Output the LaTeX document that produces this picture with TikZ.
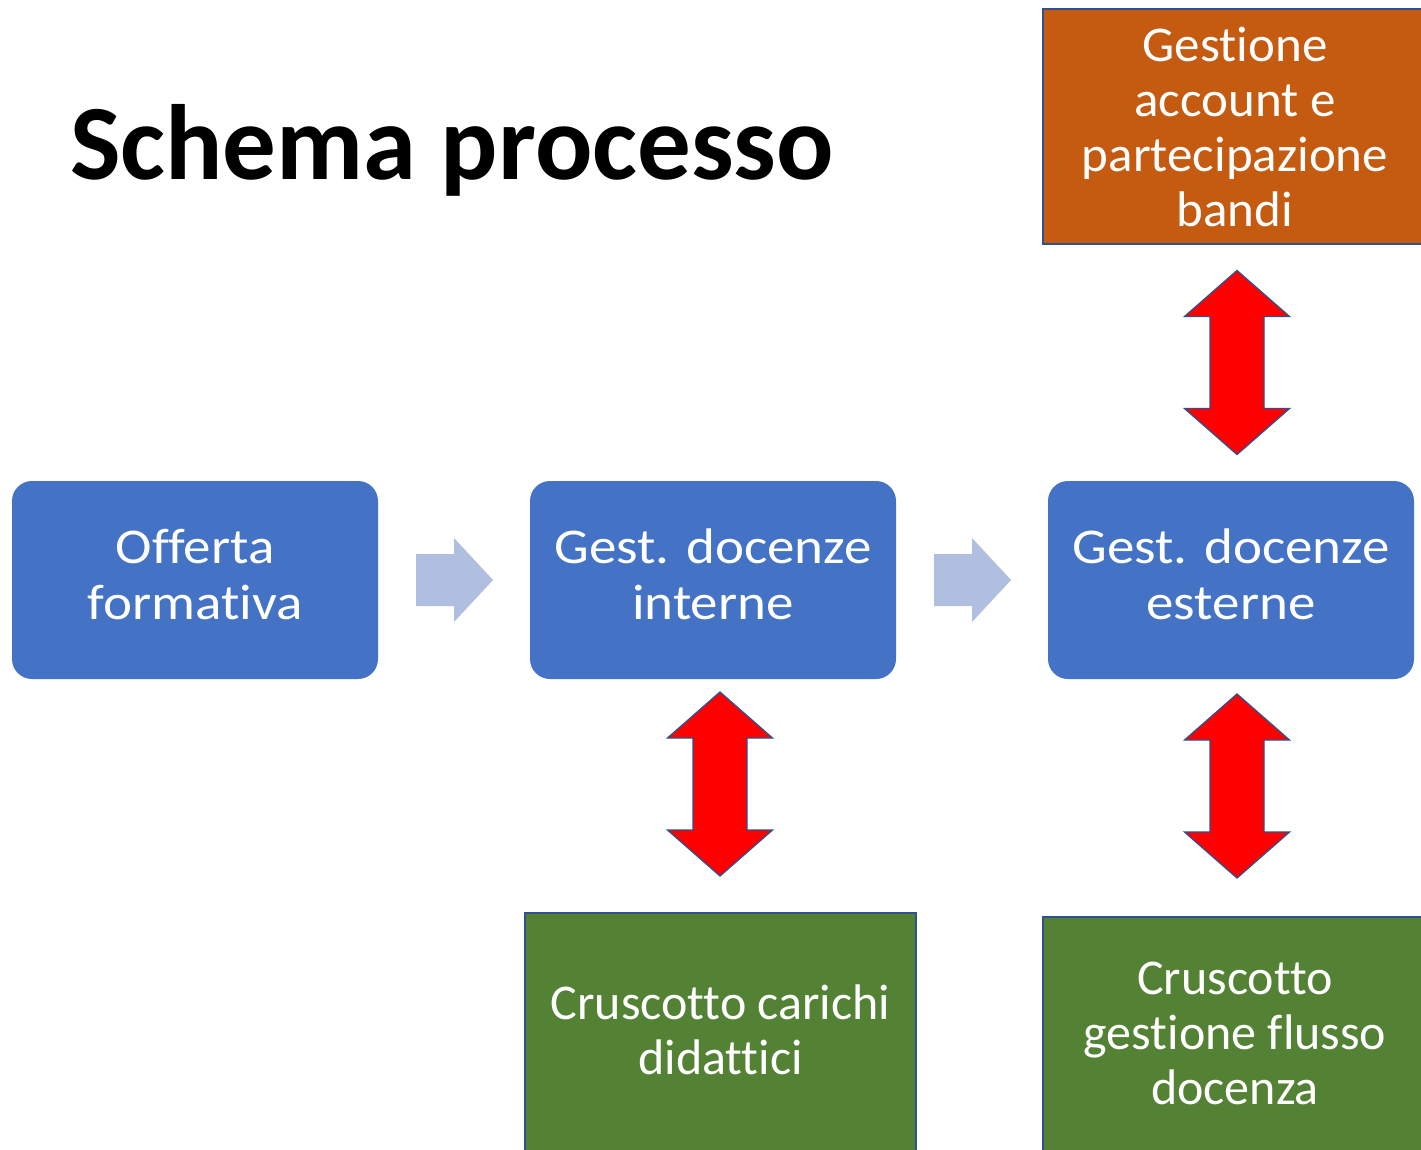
\documentclass[tikz,border=0pt]{standalone}
\usepackage{fontspec}
\usetikzlibrary{calc}
\setmainfont[Ligatures={TeX,NoCommon}]{Carlito}
\newfontfamily\bluefont[FakeStretch=1.1,Ligatures={TeX,NoCommon}]{Carlito}
\newfontfamily\orfont[FakeStretch=1.02,Ligatures={TeX,NoCommon}]{Carlito}
\newfontfamily\grfont[Ligatures={TeX,NoCommon}]{Carlito}
\definecolor{boxblue}{HTML}{4472C4}
\definecolor{lightarr}{HTML}{B0BEE0}
\definecolor{boxorange}{HTML}{C55A11}
\definecolor{boxgreen}{HTML}{548235}
\definecolor{edgeblue}{HTML}{2F528F}
\newcommand{\lines}[2]{\raisebox{#1}{\begin{tabular}{@{}c@{}}#2\end{tabular}}}
\tikzset{
  procbox/.style={rectangle, rounded corners=20pt, fill=boxblue, draw=none,
    minimum width=366pt, minimum height=198pt, inner sep=0pt, text=white,
    align=center, font=\bluefont\fontsize{50}{56}\selectfont},
  sidebox/.style={rectangle, draw=edgeblue, line width=1.3pt, inner sep=0pt,
    text=white, align=center},
  redarr/.pic={
    \fill[red, draw=edgeblue, line width=1.3pt, line join=miter]
      (0,-92) -- (52.5,-46) -- (27,-46) -- (27,46) -- (52.5,46) -- (0,92)
      -- (-52.5,46) -- (-27,46) -- (-27,-46) -- (-52.5,-46) -- cycle;
  },
  flowarr/.pic={
    \fill[lightarr]
      (-38,-26) -- (0,-26) -- (0,-42) -- (39,0) -- (0,42) -- (0,26)
      -- (-38,26) -- cycle;
  }
}
\begin{document}
\begin{tikzpicture}[x=1pt,y=-1pt]
\clip (0,0) rectangle (1421,1149);
\fill[white] (0,0) rectangle (1421,1149);

% title
\node[anchor=base west, inner sep=0pt, font=\bfseries\fontsize{107}{120}\selectfont]
  (title) at (70,179) {Schema processo};

% main process boxes
\node[procbox] (off) at (195,580) {\lines{-3pt}{Offerta\\formativa}};
\node[procbox] (gi) at (713,580) {\lines{-3pt}{Gest. docenze\\interne}};
\node[procbox] (ge) at (1231,580) {\lines{-3pt}{Gest. docenze\\esterne}};

% side boxes
\node[sidebox, fill=boxorange, minimum width=384pt, minimum height=235pt,
  font=\orfont\fontsize{50}{55}\selectfont]
  (gab) at (1235,126.5) {Gestione\\account e\\partecipazione\\bandi};
\node[sidebox, fill=boxgreen, minimum width=391pt, minimum height=246pt,
  font=\grfont\fontsize{50}{55}\selectfont]
  (ccd) at (720.5,1036) {\lines{7pt}{Cruscotto carichi\\didattici}};
\node[sidebox, fill=boxgreen, minimum width=384pt, minimum height=242pt,
  font=\grfont\fontsize{50}{55}\selectfont]
  (cgf) at (1235,1038) {\lines{5pt}{Cruscotto\\gestione flusso\\docenza}};

% flow arrows between process boxes
\coordinate (f1) at ($(off.east)!0.5!(gi.west)$);
\coordinate (f2) at ($(gi.east)!0.5!(ge.west)$);
\pic at (f1) {flowarr};
\pic at (f2) {flowarr};

% red double arrows
\coordinate (r1) at (1237,362.5);
\coordinate (r2) at (720,784);
\coordinate (r3) at (1237,786);
\pic at (r1) {redarr};
\pic at (r2) {redarr};
\pic at (r3) {redarr};
\end{tikzpicture}
\end{document}
